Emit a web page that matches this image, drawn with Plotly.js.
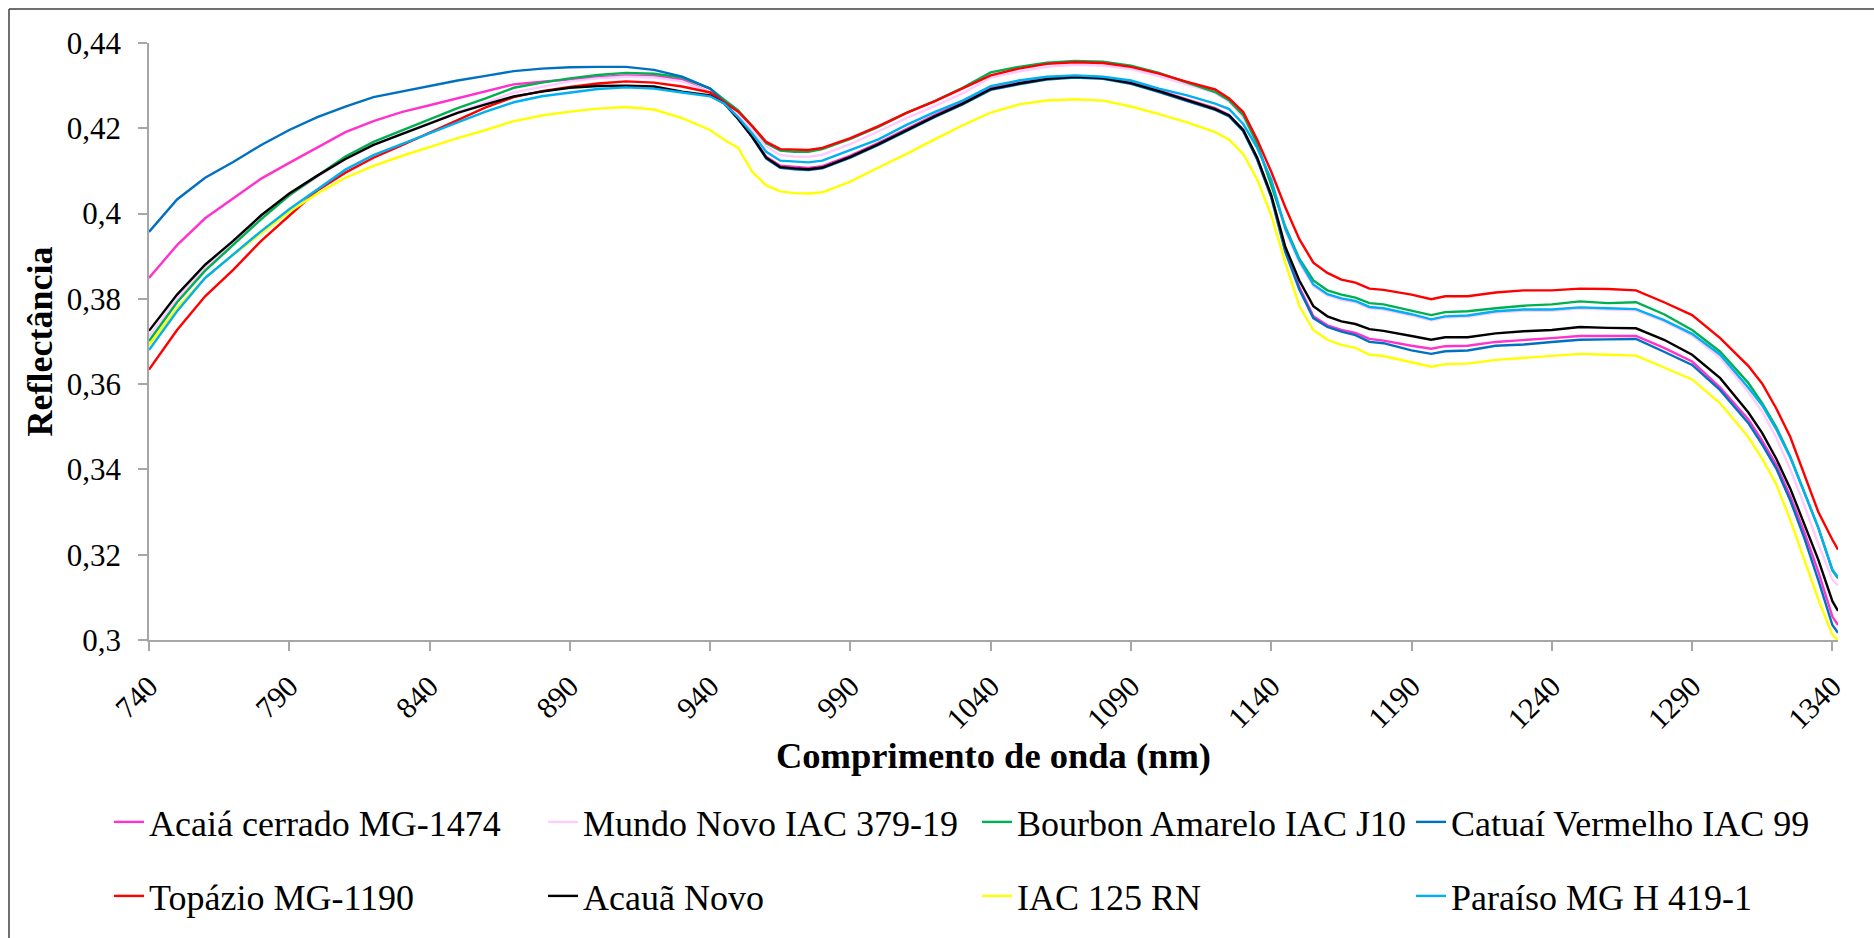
<!DOCTYPE html>
<html>
<head>
<meta charset="utf-8">
<script src="https://cdn.plot.ly/plotly-3.0.1.min.js"></script>
<style>
  html, body { margin: 0; padding: 0; background: #ffffff; }
  #chart { width: 1874px; height: 938px; }
</style>
</head>
<body>
<div id="chart"></div>
<script>
// Wavelengths (nm) at which reflectance was sampled
const wavelength = [740, 750, 760, 770, 780, 790, 800, 810, 820, 830, 840, 850, 860, 870, 880, 890, 900, 910, 920, 930,
  940, 945, 950, 955, 960, 965, 970, 975, 980, 990, 1000, 1010, 1020, 1030, 1040, 1050, 1060, 1070, 1080, 1090,
  1100, 1110, 1120, 1125, 1130, 1135, 1140, 1145, 1150, 1155, 1160, 1165, 1170, 1175, 1180, 1190, 1197, 1202, 1210, 1220,
  1230, 1240, 1250, 1260, 1270, 1280, 1290, 1300, 1310, 1315, 1320, 1325, 1330, 1335, 1340, 1342];

// Reflectance of each cultivar
const acaiaCerrado = [.3849, .3926, .3989, .4035, .4082, .4119, .4156, .4191, .4217, .4238, .4254, .4270, .4286, .4303, .4309, .4315, .4320, .4324, .4323, .4314,
  .4284, .4261, .4224, .4181, .4133, .4112, .4109, .4107, .4111, .4136, .4166, .4199, .4231, .4261, .4294, .4307, .4318, .4323, .4320, .4308,
  .4289, .4268, .4247, .4231, .4196, .4128, .4040, .3913, .3828, .3759, .3738, .3727, .3720, .3706, .3702, .3690, .3683, .3689, .3690, .3699,
  .3703, .3708, .3713, .3713, .3713, .3685, .3653, .3592, .3518, .3467, .3411, .3337, .3253, .3160, .3055, .3035];
const mundoNovo = [.3712, .3800, .3873, .3930, .3990, .4042, .4086, .4127, .4160, .4188, .4212, .4238, .4260, .4284, .4297, .4310, .4317, .4321, .4319, .4310,
  .4285, .4260, .4230, .4195, .4157, .4137, .4134, .4133, .4138, .4163, .4193, .4224, .4252, .4282, .4319, .4333, .4344, .4349, .4347, .4339,
  .4322, .4302, .4283, .4262, .4225, .4160, .4075, .3960, .3885, .3830, .3808, .3798, .3792, .3778, .3775, .3761, .3749, .3756, .3758, .3768,
  .3772, .3772, .3777, .3775, .3773, .3747, .3714, .3662, .3582, .3535, .3475, .3400, .3316, .3225, .3142, .3128];
const bourbonAmarelo = [.3701, .3792, .3866, .3926, .3987, .4043, .4089, .4134, .4168, .4195, .4221, .4247, .4270, .4295, .4307, .4317, .4325, .4330, .4328, .4319,
  .4293, .4267, .4242, .4205, .4165, .4148, .4145, .4145, .4151, .4175, .4203, .4236, .4264, .4295, .4331, .4344, .4354, .4358, .4356, .4347,
  .4330, .4307, .4285, .4265, .4231, .4164, .4066, .3969, .3894, .3843, .3820, .3810, .3803, .3790, .3787, .3773, .3762, .3769, .3771, .3778,
  .3784, .3787, .3794, .3790, .3792, .3764, .3727, .3676, .3603, .3555, .3499, .3430, .3348, .3263, .3163, .3145];
const catuaiVermelho = [.3957, .4033, .4084, .4121, .4161, .4196, .4226, .4251, .4273, .4286, .4298, .4312, .4323, .4334, .4340, .4343, .4344, .4344, .4337, .4321,
  .4293, .4262, .4222, .4179, .4129, .4107, .4104, .4102, .4106, .4131, .4161, .4194, .4226, .4256, .4290, .4303, .4314, .4319, .4316, .4304,
  .4285, .4264, .4243, .4228, .4193, .4126, .4038, .3910, .3822, .3755, .3734, .3723, .3715, .3699, .3696, .3679, .3671, .3677, .3679, .3690,
  .3693, .3699, .3704, .3705, .3706, .3676, .3645, .3586, .3509, .3458, .3402, .3327, .3239, .3140, .3035, .3017];
const topazio = [.3634, .3727, .3806, .3868, .3936, .3994, .4054, .4096, .4131, .4160, .4189, .4219, .4249, .4273, .4287, .4297, .4305, .4310, .4307, .4298,
  .4284, .4262, .4239, .4205, .4168, .4151, .4150, .4149, .4154, .4177, .4205, .4236, .4263, .4293, .4324, .4340, .4351, .4355, .4353, .4344,
  .4328, .4309, .4291, .4270, .4238, .4173, .4098, .4015, .3940, .3885, .3861, .3845, .3838, .3824, .3821, .3810, .3799, .3806, .3806, .3815,
  .3820, .3820, .3824, .3823, .3820, .3792, .3762, .3708, .3643, .3601, .3543, .3476, .3388, .3300, .3235, .3212];
const acauaNovo = [.3725, .3810, .3880, .3936, .3996, .4047, .4089, .4128, .4161, .4186, .4210, .4236, .4256, .4275, .4286, .4295, .4299, .4300, .4298, .4286,
  .4277, .4258, .4222, .4180, .4131, .4109, .4106, .4104, .4108, .4133, .4163, .4196, .4228, .4258, .4292, .4305, .4316, .4321, .4318, .4306,
  .4287, .4266, .4245, .4230, .4196, .4131, .4043, .3922, .3843, .3783, .3759, .3747, .3741, .3729, .3725, .3713, .3704, .3710, .3710, .3719,
  .3724, .3727, .3734, .3732, .3731, .3704, .3669, .3614, .3534, .3485, .3425, .3355, .3272, .3188, .3091, .3068];
const iac125RN = [.3692, .3778, .3849, .3903, .3954, .4004, .4047, .4084, .4112, .4135, .4156, .4177, .4196, .4217, .4230, .4239, .4246, .4250, .4244, .4224,
  .4196, .4173, .4154, .4098, .4066, .4052, .4048, .4047, .4050, .4075, .4108, .4140, .4174, .4207, .4237, .4256, .4265, .4268, .4265, .4251,
  .4233, .4214, .4191, .4173, .4140, .4080, .3996, .3885, .3783, .3727, .3704, .3692, .3685, .3669, .3666, .3651, .3641, .3647, .3648, .3657,
  .3662, .3667, .3671, .3669, .3667, .3639, .3611, .3555, .3476, .3425, .3365, .3281, .3188, .3095, .3012, .3000];
const paraiso = [.3680, .3771, .3849, .3905, .3959, .4010, .4056, .4103, .4137, .4163, .4189, .4214, .4239, .4261, .4275, .4284, .4292, .4296, .4293, .4284,
  .4275, .4258, .4226, .4188, .4145, .4124, .4122, .4120, .4124, .4149, .4174, .4208, .4238, .4265, .4299, .4312, .4321, .4324, .4321, .4312,
  .4293, .4277, .4258, .4245, .4210, .4154, .4080, .3965, .3890, .3834, .3811, .3801, .3795, .3781, .3778, .3764, .3752, .3759, .3761, .3771,
  .3775, .3775, .3780, .3778, .3776, .3750, .3718, .3669, .3592, .3550, .3494, .3428, .3346, .3263, .3165, .3147];

const seriesNames = ['Acaiá cerrado MG-1474', 'Mundo Novo IAC 379-19', 'Bourbon Amarelo IAC J10', 'Catuaí Vermelho IAC 99',
  'Topázio MG-1190', 'Acauã Novo', 'IAC 125 RN', 'Paraíso MG H 419-1'];
const seriesValues = [acaiaCerrado, mundoNovo, bourbonAmarelo, catuaiVermelho, topazio, acauaNovo, iac125RN, paraiso];
const seriesColors = ['#FF33CC', '#FFCCFF', '#00B050', '#0070C0', '#FF0000', '#000000', '#FFFF00', '#00B0F0'];

// Axis ticks
const xTickVals = [740, 790, 840, 890, 940, 990, 1040, 1090, 1140, 1190, 1240, 1290, 1340];
const yTickVals = [0.30, 0.32, 0.34, 0.36, 0.38, 0.40, 0.42, 0.44];
const yTickText = ['0,3', '0,32', '0,34', '0,36', '0,38', '0,4', '0,42', '0,44'];

const serif = 'Liberation Serif, Times New Roman, serif';
const axisGray = '#A6A6A6';

const traces = seriesNames.map((name, i) => ({
  type: 'scatter',
  mode: 'lines',
  name: name,
  x: wavelength,
  y: seriesValues[i],
  line: { color: seriesColors[i], width: 2.4 },
  legend: i < 4 ? 'legend' : 'legend2',
  hoverinfo: 'x+y+name'
}));

const W = 1874, H = 938;
const M = { l: 149, r: 36, t: 43, b: 298 };
const plotW = W - M.l - M.r, plotH = H - M.t - M.b;
const px = v => (v - M.l) / plotW;          // page x (px) -> paper x
const py = v => (H - M.b - v) / plotH;      // page y (px) -> paper y

const legendCommon = {
  orientation: 'h',
  xanchor: 'left',
  yanchor: 'middle',
  x: px(109),
  bgcolor: 'rgba(0,0,0,0)',
  borderwidth: 0,
  itemwidth: 30,
  entrywidth: 389,
  entrywidthmode: 'pixels',
  font: { family: serif, size: 36, color: '#000000' },
  itemclick: false,
  itemdoubleclick: false
};

const layout = {
  width: W,
  height: H,
  margin: M,
  paper_bgcolor: '#ffffff',
  plot_bgcolor: '#ffffff',
  font: { family: serif, color: '#000000' },
  showlegend: true,
  legend: Object.assign({}, legendCommon, { y: py(822) }),
  legend2: Object.assign({}, legendCommon, { y: py(896) }),
  xaxis: {
    range: [740, 1342],
    tickmode: 'array',
    tickvals: xTickVals,
    ticktext: xTickVals.map(String),
    tickangle: -45,
    ticks: 'outside',
    ticklen: 9,
    tickwidth: 1.5,
    tickcolor: axisGray,
    showline: true,
    linecolor: axisGray,
    linewidth: 1.5,
    showgrid: false,
    zeroline: false,
    tickfont: { family: serif, size: 30, color: '#000000' },
    ticklabelstandoff: 6,
    title: {
      text: 'Comprimento de onda (nm)',
      font: { family: serif, size: 36.5, color: '#000000', weight: 'bold' },
      standoff: 6
    }
  },
  yaxis: {
    range: [0.30, 0.44],
    tickmode: 'array',
    tickvals: yTickVals,
    ticktext: yTickText,
    ticks: 'outside',
    ticklen: 9,
    tickwidth: 1.5,
    tickcolor: axisGray,
    showline: true,
    linecolor: axisGray,
    linewidth: 1.5,
    showgrid: false,
    zeroline: false,
    tickfont: { family: serif, size: 31, color: '#000000' },
    ticklabelstandoff: 11,
    title: {
      text: 'Reflectância',
      font: { family: serif, size: 36, color: '#000000', weight: 'bold' },
      standoff: 3
    }
  },
  shapes: [
    // chart frame (top and left edges)
    { type: 'line', xref: 'paper', yref: 'paper', x0: px(9), x1: px(1880), y0: py(9), y1: py(9),
      line: { color: '#3F3F3F', width: 1.5 } },
    { type: 'line', xref: 'paper', yref: 'paper', x0: px(9), x1: px(9), y0: py(9), y1: py(945),
      line: { color: '#3F3F3F', width: 1.5 } }
  ]
};

Plotly.newPlot('chart', traces, layout, { displayModeBar: false, responsive: false });
</script>
</body>
</html>
